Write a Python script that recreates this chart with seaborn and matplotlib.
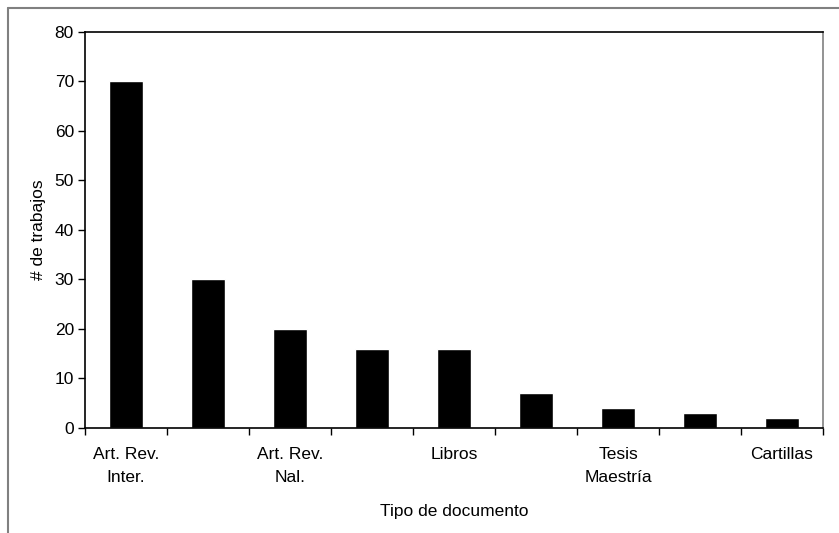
import numpy as np
import pandas as pd
import matplotlib
matplotlib.use("Agg")
import matplotlib.pyplot as plt
import seaborn as sns
from matplotlib.lines import Line2D

# data
categories = ["Art. Rev. Inter.", "Cat 2", "Art. Rev. Nal.", "Cat 4", "Libros",
              "Cat 6", "Tesis Maestría", "Cat 8", "Cartillas"]
tick_labels = ["Art. Rev.\nInter.", "", "Art. Rev.\nNal.", "", "Libros",
               "", "Tesis\nMaestría", "", "Cartillas"]
n_trabajos = [70, 30, 20, 16, 16, 7, 4, 3, 2]

df = pd.DataFrame({"tipo": categories, "n": n_trabajos})

sns.set_style("white")
plt.rcParams['font.family'] = ['Liberation Sans', 'DejaVu Sans']
plt.rcParams['text.color'] = 'black'
plt.rcParams['axes.labelcolor'] = 'black'
plt.rcParams['xtick.color'] = 'black'
plt.rcParams['ytick.color'] = 'black'

fs = 12.5

fig = plt.figure(figsize=(8.39, 5.33), dpi=100)
ax = fig.add_axes([0.1013, 0.197, 0.8797, 0.743])

sns.barplot(data=df, x="tipo", y="n", order=categories, color="black",
            width=0.42, saturation=1, ax=ax)

ax.set_ylim(0, 80)
ax.set_xlim(-0.5, len(categories) - 0.5)
ax.set_yticks(np.arange(0, 81, 10))
ax.tick_params(axis="y", labelsize=fs, direction="out", length=5, width=1,
               color="black", left=True, pad=3)

# Excel style: ticks between categories, labels centred under bars
ax.set_xticks(np.arange(-0.5, len(categories), 1.0))
ax.set_xticklabels([])
ax.set_xticks(np.arange(len(categories)), minor=True)
ax.set_xticklabels(tick_labels, minor=True, fontsize=fs, linespacing=1.6)
ax.tick_params(axis="x", which="major", direction="out", length=5, width=1,
               color="black", bottom=True)
ax.tick_params(axis="x", which="minor", length=0, pad=14)

ax.set_xlabel("Tipo de documento", fontsize=fs, labelpad=14)
ax.set_ylabel("# de trabajos", fontsize=fs, labelpad=6)

for side in ["left", "top", "bottom"]:
    ax.spines[side].set_color("black")
    ax.spines[side].set_linewidth(1.2)
ax.spines["right"].set_color("#808080")
ax.spines["right"].set_linewidth(1.2)

# outer chart-area border (cropped: only top and left visible)
fig.add_artist(Line2D([8 / 839, 1], [1 - 8 / 533, 1 - 8 / 533],
                      transform=fig.transFigure, color="#808080", lw=1.5))
fig.add_artist(Line2D([8 / 839, 8 / 839], [0, 1 - 8 / 533],
                      transform=fig.transFigure, color="#808080", lw=1.5))

plt.savefig("out.png", dpi=100)
